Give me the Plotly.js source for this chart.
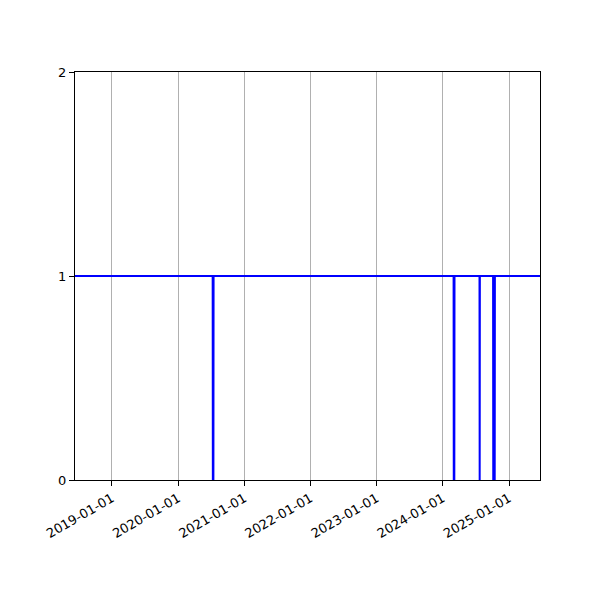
<!DOCTYPE html>
<html>
<head>
<meta charset="utf-8">
<script src="https://cdn.plot.ly/plotly-3.0.1.min.js"></script>
<style>html,body{margin:0;padding:0;background:#fff;}#chart{width:600px;height:600px;}</style>
</head>
<body>
<div id="chart"></div>
<script>
// Dates and status values (1 = up, 0 = down)
const dates = [
  "2018-06-11",
  "2020-07-10", "2020-07-11", "2020-07-14", "2020-07-15",
  "2024-03-01", "2024-03-02", "2024-03-05", "2024-03-06",
  "2024-07-22", "2024-07-23", "2024-07-24",
  "2024-10-05", "2024-10-06", "2024-10-14", "2024-10-15",
  "2025-06-21"
];
const values = [
  1,
  1, 0, 0, 1,
  1, 0, 0, 1,
  1, 0, 1,
  1, 0, 0, 1,
  1
];
const tickDates = ["2019-01-01","2020-01-01","2021-01-01","2022-01-01","2023-01-01","2024-01-01","2025-01-01"];
const yTicks = [0, 1, 2];

const trace = {
  x: dates, y: values, type: "scatter", mode: "lines",
  line: {color: "#0000ff", width: 2}, hoverinfo: "skip"
};
const layout = {
  width: 600, height: 600,
  margin: {l: 75, r: 60, t: 72, b: 120},
  paper_bgcolor: "#fff", plot_bgcolor: "#fff",
  font: {family: "DejaVu Sans", size: 13, color: "#000"},
  showlegend: false,
  xaxis: {
    type: "date", range: ["2018-06-11", "2025-06-21"],
    tickvals: tickDates, ticktext: tickDates, tickangle: -30,
    showgrid: true, gridcolor: "#b0b0b0", gridwidth: 1,
    showline: true, mirror: true, linecolor: "#000", linewidth: 1,
    ticks: "outside", ticklen: 5, tickcolor: "#000",
    zeroline: false, fixedrange: true
  },
  yaxis: {
    range: [0, 2], tickvals: yTicks, ticktext: yTicks.map(String),
    showgrid: false, zeroline: false,
    showline: true, mirror: true, linecolor: "#000", linewidth: 1,
    ticks: "outside", ticklen: 5, tickcolor: "#000", fixedrange: true
  }
};
Plotly.newPlot("chart", [trace], layout, {displayModeBar: false, staticPlot: true});
</script>
</body>
</html>
